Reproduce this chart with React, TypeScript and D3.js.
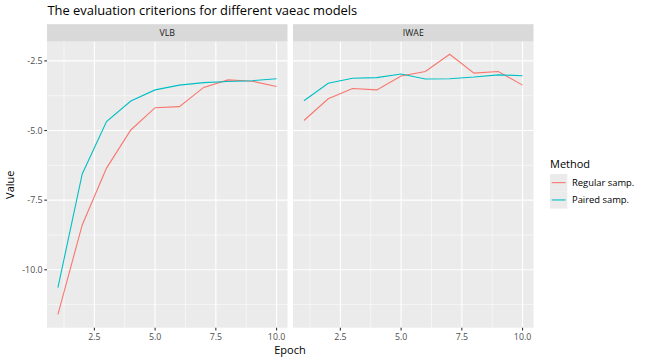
import React from "react";
import * as d3 from "d3";

const epochs = [1, 2, 3, 4, 5, 6, 7, 8, 9, 10];
const panels = ["VLB", "IWAE"];
const methods = ["Regular samp.", "Paired samp."];
const colors = ["#F8766D", "#00BFC4"];

const vlbRegular = [-11.6, -8.39, -6.35, -4.98, -4.18, -4.14, -3.45, -3.18, -3.23, -3.42];
const vlbPaired = [-10.64, -6.56, -4.68, -3.94, -3.54, -3.37, -3.28, -3.24, -3.21, -3.14];
const iwaeRegular = [-4.64, -3.86, -3.49, -3.54, -3.04, -2.88, -2.26, -2.94, -2.88, -3.37];
const iwaePaired = [-3.93, -3.3, -3.12, -3.1, -2.97, -3.15, -3.14, -3.08, -3.0, -3.03];

const xTicks = [2.5, 5.0, 7.5, 10.0];
const xMinor = [1.25, 3.75, 6.25, 8.75];
const yTicks = [-2.5, -5.0, -7.5, -10.0];
const yMinor = [-3.75, -6.25, -8.75, -11.25];

const series = [
  [vlbRegular, vlbPaired],
  [iwaeRegular, iwaePaired],
];

const font = "'Open Sans', sans-serif";

export default function App() {
  const W = 648, H = 360;
  const top = 41.7, bottom = 327.7;
  const panelX = [47, 293];
  const panelW = 240.5;
  const stripH = 17.5;

  const y = d3.scaleLinear().domain([-12.08, -1.81]).range([bottom, top]);

  return (
    <svg width={W} height={H} style={{ position: "absolute", left: 0, top: 0, background: "#fff" }}>
      <text x={47.5} y={15} fontFamily={font} fontSize={12.9} fill="#000">
        The evaluation criterions for different vaeac models
      </text>
      {panels.map((p, pi) => {
        const x0 = panelX[pi];
        const x = d3.scaleLinear().domain([0.55, 10.45]).range([x0, x0 + panelW]);
        const line = d3
          .line<number>()
          .x((_, i) => x(epochs[i]))
          .y((d) => y(d));
        return (
          <g key={p}>
            <rect x={x0} y={top - stripH} width={panelW} height={stripH} fill="#D9D9D9" />
            <text x={x0 + panelW / 2} y={top - stripH / 2 + 3.2} textAnchor="middle" fontFamily={font} fontSize={8.8} fill="#1A1A1A">
              {p}
            </text>
            <rect x={x0} y={top} width={panelW} height={bottom - top} fill="#EBEBEB" />
            {yMinor.map((t) => (
              <line key={"ym" + t} x1={x0} x2={x0 + panelW} y1={y(t)} y2={y(t)} stroke="#fff" strokeWidth={0.55} />
            ))}
            {xMinor.map((t) => (
              <line key={"xm" + t} x1={x(t)} x2={x(t)} y1={top} y2={bottom} stroke="#fff" strokeWidth={0.55} />
            ))}
            {yTicks.map((t) => (
              <line key={"y" + t} x1={x0} x2={x0 + panelW} y1={y(t)} y2={y(t)} stroke="#fff" strokeWidth={1.1} />
            ))}
            {xTicks.map((t) => (
              <g key={"x" + t}>
                <line x1={x(t)} x2={x(t)} y1={top} y2={bottom} stroke="#fff" strokeWidth={1.1} />
                <line x1={x(t)} x2={x(t)} y1={bottom} y2={bottom + 2.7} stroke="#333" strokeWidth={1.1} />
                <text x={x(t)} y={bottom + 12} textAnchor="middle" fontFamily={font} fontSize={8.8} fill="#4D4D4D">
                  {t.toFixed(1)}
                </text>
              </g>
            ))}
            {series[pi].map((s, si) => (
              <path key={si} d={line(s) || ""} fill="none" stroke={colors[si]} strokeWidth={1.1} />
            ))}
            {pi === 0 &&
              yTicks.map((t) => (
                <g key={"yl" + t}>
                  <line x1={x0 - 2.7} x2={x0} y1={y(t)} y2={y(t)} stroke="#333" strokeWidth={1.1} />
                  <text x={x0 - 4.5} y={y(t) + 3.1} textAnchor="end" fontFamily={font} fontSize={8.8} fill="#4D4D4D">
                    {t.toFixed(1)}
                  </text>
                </g>
              ))}
          </g>
        );
      })}
      <text x={290} y={354} textAnchor="middle" fontFamily={font} fontSize={11} fill="#000">
        Epoch
      </text>
      <text transform={`translate(14,${(top + bottom) / 2}) rotate(-90)`} textAnchor="middle" fontFamily={font} fontSize={11} fill="#000">
        Value
      </text>
      <g>
        <text x={550} y={168} fontFamily={font} fontSize={11} fill="#000">
          Method
        </text>
        {methods.map((m, i) => (
          <g key={m}>
            <rect x={550} y={174 + i * 17.3} width={17.3} height={17.3} fill="#EBEBEB" />
            <line x1={551.7} x2={565.6} y1={174 + i * 17.3 + 8.65} y2={174 + i * 17.3 + 8.65} stroke={colors[i]} strokeWidth={1.1} />
            <text x={572} y={174 + i * 17.3 + 11.8} fontFamily={font} fontSize={9.4} fill="#000">
              {m}
            </text>
          </g>
        ))}
      </g>
    </svg>
  );
}
